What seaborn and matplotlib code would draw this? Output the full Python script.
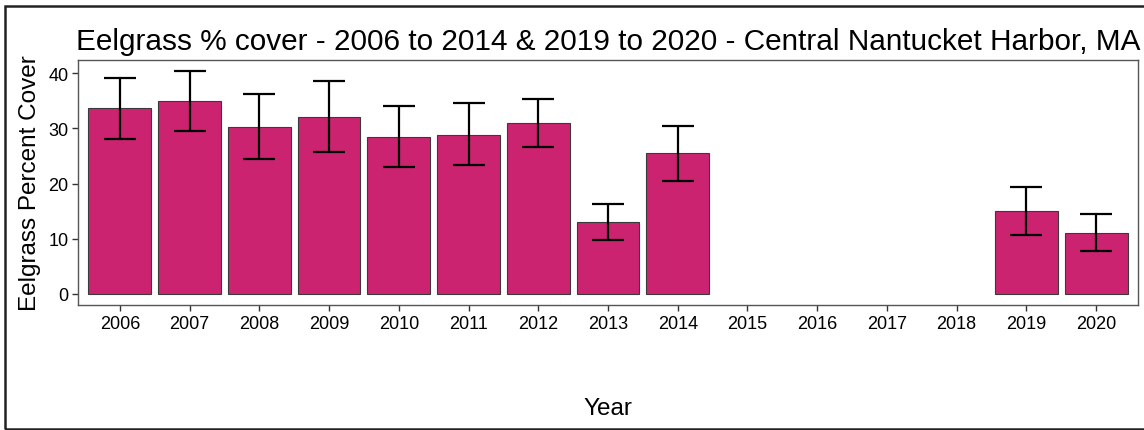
import matplotlib
matplotlib.use("Agg")
import matplotlib.pyplot as plt
import seaborn as sns
import pandas as pd
import numpy as np
from matplotlib.patches import Rectangle

years = [str(y) for y in range(2006, 2021)]
data_years = ["2006", "2007", "2008", "2009", "2010", "2011", "2012", "2013", "2014", "2019", "2020"]
cover = [33.7, 35.0, 30.3, 32.1, 28.5, 28.9, 31.0, 13.0, 25.5, 15.0, 11.1]
err_low = [28.0, 29.6, 24.4, 25.8, 23.0, 23.4, 26.6, 9.7, 20.5, 10.6, 7.8]
err_high = [39.1, 40.4, 36.2, 38.6, 34.1, 34.6, 35.3, 16.3, 30.5, 19.3, 14.5]

df = pd.DataFrame({"Year": data_years, "Cover": cover, "lo": err_low, "hi": err_high})

sns.set_style("white")
plt.rcParams["font.family"] = ["Liberation Sans", "DejaVu Sans"]
plt.rcParams["text.color"] = "black"
plt.rcParams["axes.labelcolor"] = "black"

W, H = 1144, 431
fig = plt.figure(figsize=(W / 100, H / 100), dpi=100)
ax = fig.add_axes([78 / W, 1 - 306 / H, 1060 / W, 245 / H])

sns.barplot(data=df, x="Year", y="Cover", order=years, color="#CB2370",
            saturation=1, width=0.9, edgecolor="#3a3a3a", linewidth=0.8,
            errorbar=None, ax=ax)

pos = [years.index(y) for y in df["Year"]]
ax.errorbar(pos, df["Cover"], yerr=[df["Cover"] - df["lo"], df["hi"] - df["Cover"]],
            fmt="none", ecolor="black", elinewidth=1.6, capsize=11.2, capthick=1.6)

ax.set_xlim(-0.6, len(years) - 0.4)
ax.set_ylim(-2.02, 42.42)
ax.set_yticks([0, 10, 20, 30, 40])
ax.tick_params(axis="both", which="both", length=4, width=1, color="#333333",
               labelsize=13, labelcolor="black", bottom=True, left=True, pad=3)
for s in ax.spines.values():
    s.set_color("#555555")
    s.set_linewidth(1)
ax.set_xlabel("Year", fontsize=17.5, labelpad=47, color="black")
ax.set_ylabel("Eelgrass Percent Cover", fontsize=17.5, labelpad=5, color="black")
ax.set_title("Eelgrass % cover - 2006 to 2014 & 2019 to 2020 - Central Nantucket Harbor, MA",
             fontsize=21.4, pad=8, color="black")

fig.patches.append(Rectangle((4.5 / W, 1 / H), 1.2, (H - 7.5) / H,
                             transform=fig.transFigure, fill=False,
                             edgecolor="#222222", linewidth=1.8, zorder=10))

fig.savefig("out.png", dpi=100)
